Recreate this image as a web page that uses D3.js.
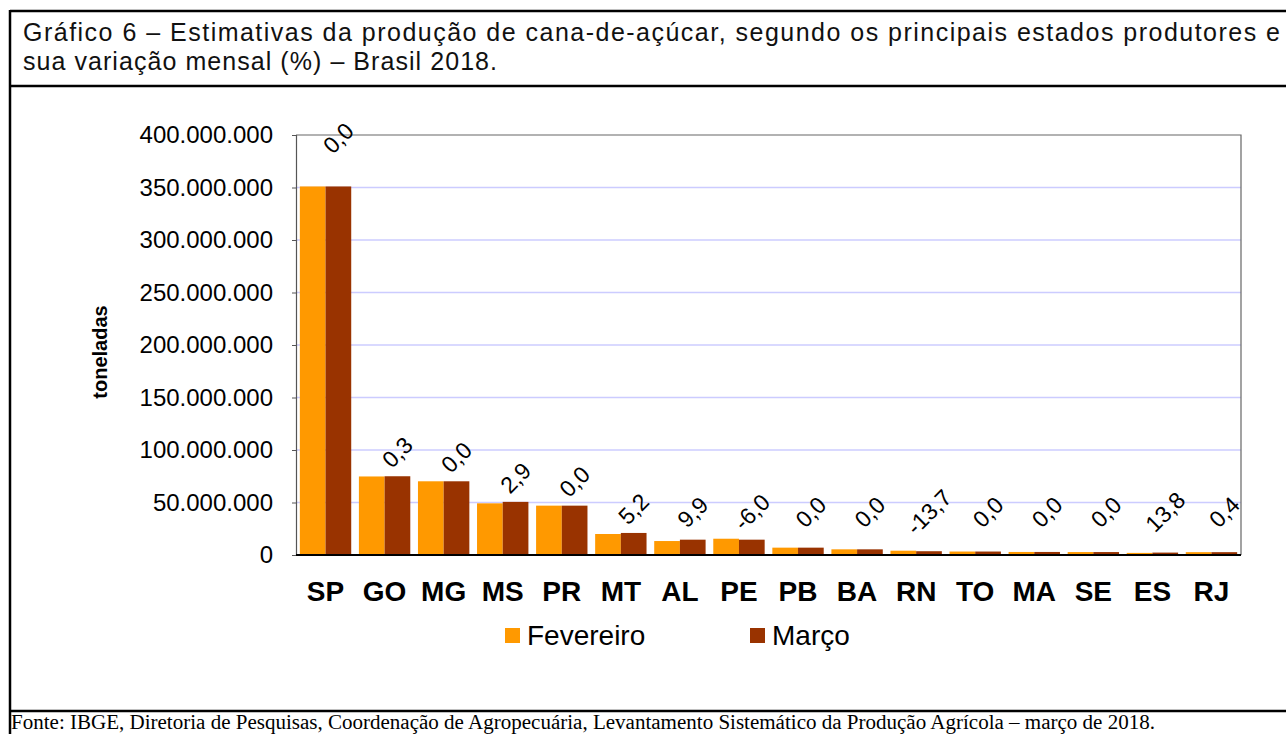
<!DOCTYPE html>
<html>
<head>
<meta charset="utf-8">
<script src="https://cdn.jsdelivr.net/npm/d3@7"></script>
<style>
  body { margin: 0; background: #fff; }
  svg { display: block; }
</style>
</head>
<body>
<svg id="viz"></svg>
<script>
var width = 1286, height = 734

// data (toneladas)
var estados = ['SP', 'GO', 'MG', 'MS', 'PR', 'MT', 'AL', 'PE', 'PB', 'BA', 'RN', 'TO', 'MA', 'SE', 'ES', 'RJ']
var fevereiro = [351.0e6, 74.8e6, 70.2e6, 49.2e6, 47.0e6, 20.0e6, 13.3e6, 15.5e6, 7.0e6, 5.4e6, 4.1e6, 3.3e6, 2.9e6, 2.8e6, 2.0e6, 2.7e6]
var marco = [351.0e6, 75.0e6, 70.2e6, 50.6e6, 47.0e6, 21.0e6, 14.6e6, 14.6e6, 7.0e6, 5.4e6, 3.6e6, 3.3e6, 2.9e6, 2.8e6, 2.3e6, 2.7e6]
var variacao = ['0,0', '0,3', '0,0', '2,9', '0,0', '5,2', '9,9', '-6,0', '0,0', '0,0', '-13,7', '0,0', '0,0', '0,0', '13,8', '0,4']
var series = ['Fevereiro', 'Março']
var yTicks = [0, 50e6, 100e6, 150e6, 200e6, 250e6, 300e6, 350e6, 400e6]

var colors = {Fevereiro: '#ff9900', 'Março': '#993300'}

var titulo1 = 'Gráfico 6 – Estimativas da produção de cana-de-açúcar, segundo os principais estados produtores e'
var titulo2 = 'sua variação mensal (%) – Brasil 2018.'
var fonte = 'Fonte: IBGE, Diretoria de Pesquisas, Coordenação de Agropecuária, Levantamento Sistemático da Produção Agrícola – março de 2018.'

var plot = {left: 296, right: 1241, top: 135, bottom: 555}

const svg = d3.select('svg#viz')
    .attr('width', width)
    .attr('height', height)
    .attr('font-family', 'Liberation Sans, Arial, sans-serif')

// frame
const frame = svg.append('g').attr('stroke', '#000').attr('stroke-width', 2.5)
frame.append('line').attr('x1', 10).attr('x2', width + 5).attr('y1', 11).attr('y2', 11)
frame.append('line').attr('x1', 10).attr('x2', width + 5).attr('y1', 86).attr('y2', 86)
frame.append('line').attr('x1', 10).attr('x2', width + 5).attr('y1', 711).attr('y2', 711)
frame.append('line').attr('x1', 10).attr('x2', 10).attr('y1', 10).attr('y2', height + 5)

// title (first line justified to the frame)
svg.append('text')
    .attr('x', 23).attr('y', 41)
    .attr('font-size', 25)
    .attr('fill', '#111')
    .attr('textLength', 1257).attr('lengthAdjust', 'spacing')
    .text(titulo1)

svg.append('text')
    .attr('x', 23).attr('y', 70)
    .attr('font-size', 25)
    .attr('fill', '#111')
    .attr('textLength', 474).attr('lengthAdjust', 'spacing')
    .text(titulo2)

// footer
svg.append('text')
    .attr('x', 11).attr('y', 729)
    .attr('font-family', 'Liberation Serif, Times New Roman, serif')
    .attr('font-size', 20)
    .attr('fill', '#000')
    .attr('textLength', 1144).attr('lengthAdjust', 'spacingAndGlyphs')
    .text(fonte)

// scales
const x0 = d3.scaleBand()
    .domain(estados)
    .range([plot.left, plot.right])
    .paddingInner(0.13)
    .paddingOuter(0.065)

const x1 = d3.scaleBand()
    .domain(series)
    .range([0, x0.bandwidth()])

const y = d3.scaleLinear()
    .domain([0, 400e6])
    .range([plot.bottom, plot.top])

// gridlines
svg.append('g')
    .attr('stroke', '#ccccff')
    .attr('stroke-width', 1.5)
  .selectAll('line')
  .data(yTicks.filter(d => d > 0 && d < 400e6))
  .join('line')
    .attr('x1', plot.left).attr('x2', plot.right)
    .attr('y1', d => y(d)).attr('y2', d => y(d))

// plot border (top, right)
svg.append('path')
    .attr('d', `M${plot.left},${plot.top}H${plot.right}V${plot.bottom}`)
    .attr('fill', 'none')
    .attr('stroke', '#666')
    .attr('stroke-width', 1.2)

// bars
const rows = estados.map((e, i) => ({estado: e, values: [
  {serie: 'Fevereiro', value: fevereiro[i]},
  {serie: 'Março', value: marco[i]}
], label: variacao[i]}))

const group = svg.append('g')
  .selectAll('g')
  .data(rows)
  .join('g')
    .attr('transform', d => `translate(${x0(d.estado)},0)`)

group.selectAll('rect')
  .data(d => d.values)
  .join('rect')
    .attr('x', d => x1(d.serie))
    .attr('y', d => y(d.value))
    .attr('width', x1.bandwidth())
    .attr('height', d => y(0) - y(d.value))
    .attr('fill', d => colors[d.serie])

// y axis
const yAxis = svg.append('g')
    .attr('transform', `translate(${plot.left},0)`)
    .call(d3.axisLeft(y)
      .tickValues(yTicks)
      .tickSize(4)
      .tickPadding(19)
      .tickFormat(d => d3.format(',')(d).replace(/,/g, '.')))
yAxis.select('.domain').attr('stroke', '#555').attr('stroke-width', 1.2)
yAxis.selectAll('.tick line').attr('stroke', '#555')
yAxis.selectAll('.tick text')
    .attr('font-size', 24)
    .attr('font-family', 'Liberation Sans, Arial, sans-serif')
    .attr('fill', '#000')

// x axis baseline
svg.append('line')
    .attr('x1', plot.left).attr('x2', plot.right)
    .attr('y1', plot.bottom).attr('y2', plot.bottom)
    .attr('stroke', '#000').attr('stroke-width', 2)

// category labels
svg.append('g')
  .selectAll('text')
  .data(estados)
  .join('text')
    .attr('x', d => x0(d) + x0.bandwidth() / 2)
    .attr('y', 601)
    .attr('text-anchor', 'middle')
    .attr('font-size', 28)
    .attr('font-weight', 'bold')
    .text(d => d)

// y title
svg.append('text')
    .attr('transform', 'translate(107,352) rotate(-90)')
    .attr('text-anchor', 'middle')
    .attr('font-size', 20)
    .attr('font-weight', 'bold')
    .text('toneladas')

// variation labels, rotated -45deg, above the Março bar
const labels = group.append('text')
    .attr('font-size', 23)
    .attr('fill', '#000')
    .attr('text-anchor', 'middle')
    .attr('dominant-baseline', 'central')
    .text(d => d.label)

labels.each(function(d, i) {
  var cx = x1('Março') + x1.bandwidth() / 2
  var top = y(d.values[1].value)
  // labels of the small bars sit on a common line above the axis
  var cy = Math.min(top - 24, y(0) - 43)
  // SP label was pushed up onto the plot edge in the source
  if (i == 0) cy = plot.top + 3
  d3.select(this).attr('transform', `translate(${cx},${cy}) rotate(-45)`)
})

// legend
const legend = svg.append('g')
  .selectAll('g')
  .data(series)
  .join('g')
    .attr('transform', (d, i) => `translate(${i == 0 ? 505 : 750},628)`)

legend.append('rect')
    .attr('width', 15).attr('height', 15)
    .attr('fill', d => colors[d])

legend.append('text')
    .attr('x', 22).attr('y', 17)
    .attr('font-size', 28)
    .text(d => d)
</script>
</body>
</html>
